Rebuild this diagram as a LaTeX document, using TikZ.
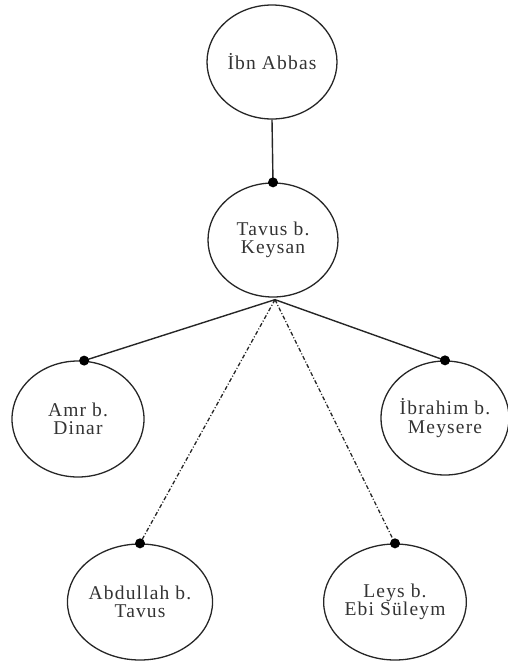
\documentclass[tikz,border=0pt]{standalone}
\usepackage{fontspec}
\setmainfont{Liberation Serif}[LetterSpace=6]
\usetikzlibrary{shapes.geometric}
\begin{document}
\begin{tikzpicture}[x=1pt,y=-1pt,
  person/.style={ellipse,draw=black!85,line width=1.3pt,inner sep=0pt,
    minimum width=130pt,minimum height=114pt,align=center,text=black!80,
    font=\fontsize{19.5}{18.5}\selectfont},
  link/.style={draw=black!85,line width=1.4pt},
  dashlink/.style={draw=black!85,line width=1.3pt,dash pattern=on 4pt off 2pt on 1pt off 2pt},
  knot/.style={fill=black,draw=none}]
\useasboundingbox (0,0) rectangle (507,664);
\node[person] (abbas) at (272,62) {İbn Abbas};
\node[person] (tavus) at (273,240) {Tavus b.\\Keysan};
\node[person,minimum width=132pt,minimum height=116pt] (amr) at (78,419) {Amr b.\\Dinar};
\node[person,minimum width=124pt] (ibrahim) at (445,418) {İbrahim b.\\Meysere};
\node[person,minimum height=116pt] (abdullah) at (140,602) {Abdullah b.\\Tavus};
\node[person,minimum width=136pt,minimum height=116pt] (leys) at (395,602) {Leys b.\\Ebi Süleym};
\coordinate (hub) at ([xshift=2pt,yshift=-2pt]tavus.south);
\draw[link] (abbas.south) -- (tavus.north);
\draw[link] (hub) -- (amr.84);
\draw[link] (hub) -- (ibrahim.north);
\draw[dashlink] (hub) -- (abdullah.north);
\draw[dashlink] (hub) -- (leys.north);
\fill[knot] (tavus.north) circle (5pt);
\fill[knot] (amr.84) circle (5pt);
\fill[knot] (ibrahim.north) circle (5pt);
\fill[knot] (abdullah.north) circle (5pt);
\fill[knot] (leys.north) circle (5pt);
\end{tikzpicture}
\end{document}
